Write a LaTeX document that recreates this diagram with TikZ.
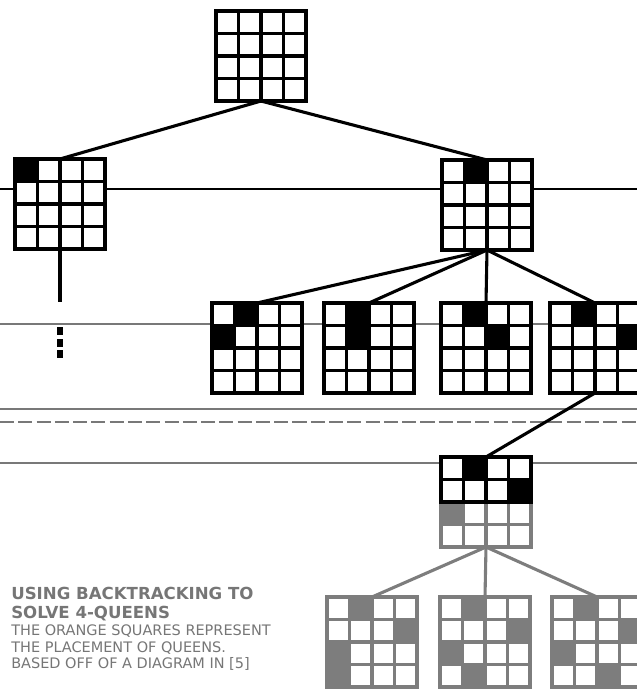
\documentclass[tikz,border=0pt]{standalone}
\usepackage{fontspec}
\setsansfont{DejaVu Sans}
\usetikzlibrary{calc,positioning}
\definecolor{qgray}{RGB}{125,125,125}
\definecolor{rulegray}{RGB}{120,120,120}
\definecolor{textgray}{RGB}{118,118,118}

% grid, queens and frame of a board node
\newcommand{\qcells}[3]{%
  \foreach \r/\c in {#3}
    \fill[#2] ($(#1.north west)+(\c*22.5,\r*22.5)$) rectangle +(22.5,22.5);
  \foreach \k in {1,2,3} {
    \draw[#2,gridline] ($(#1.north west)+(\k*22.5,0)$) -- ($(#1.south west)+(\k*22.5,0)$);
    \draw[#2,gridline] ($(#1.north west)+(0,\k*22.5)$) -- ($(#1.north east)+(0,\k*22.5)$);
  }
  \draw[#2,gridline] (#1.north west) rectangle (#1.south east);
}
\newcommand{\qboard}[4]{%
  \node[board] (#1) at (#2) {};
  \qcells{#1}{#3}{#4}
}

\begin{document}
\begin{tikzpicture}[x=0.025cm,y=-0.025cm,
  board/.style={minimum size=2.25cm,inner sep=0pt,outer sep=0pt,fill=white},
  gridline/.style={line width=2.6pt},
  link/.style={line width=2.2pt},
  rule/.style={line width=1pt,draw=rulegray},
  title/.style={font=\sffamily\bfseries\fontsize{11.8}{14}\selectfont,text=textgray,inner sep=0pt,anchor=base west},
  note/.style={font=\sffamily\fontsize{10.3}{12}\selectfont,text=textgray,inner sep=0pt,anchor=base west}]
  \clip (0,0) rectangle (637,690);

  % ruled lines of the page
  \draw[rule,draw=black,line width=1.2pt] (0,189) -- (637,189);
  \draw[rule] (0,324) -- (637,324);
  \draw[rule] (0,409) -- (637,409);
  \draw[rule,dash pattern=on 10pt off 3pt,line width=0.8pt] (0,422) -- (637,422);
  \draw[rule,line width=1.4pt] (0,463) -- (637,463);

  % root
  \qboard{b0}{261,56}{black}{}
  % first queen
  \qboard{b1}{60,204}{black}{0/0}
  \qboard{b2}{487,205}{black}{0/1}
  % second queen
  \qboard{c1}{257,348}{black}{0/1,1/0}
  \qboard{c2}{369,348}{black}{0/1,1/1}
  \qboard{c3}{486,348}{black}{0/1,1/2}
  \qboard{c4}{595,348}{black}{0/1,1/3}
  % third queen
  \qboard{d1}{486,502}{qgray}{0/1,1/3,2/0}
  \begin{scope}
    \clip ($(d1.north west)+(-5,-5)$) rectangle ($(d1.east)+(5,1)$);
    \qcells{d1}{black}{0/1,1/3}
  \end{scope}
  % fourth queen
  \qboard{e1}{372,642}{qgray}{0/1,1/3,2/0,3/0}
  \qboard{e2}{485,642}{qgray}{0/1,1/3,2/0,3/1}
  \qboard{e3}{597,642}{qgray}{0/1,1/3,2/0,3/2}

  % branches
  \draw[link] (b0.south) -- (b1.north);
  \draw[link] (b0.south) -- (b2.north);
  \foreach \n in {c1,c2,c3,c4}
    \draw[link] (b2.south) -- (\n.north);
  \draw[link] (c4.south) -- (d1.north);
  \foreach \n in {e1,e2,e3}
    \draw[link,draw=qgray] (d1.south) -- (\n.north);

  % pruned branch
  \coordinate (b1end) at (60,302);
  \draw[link] (b1.south) -- (b1end);
  \foreach \y/\m in {331/v1,343/v2,354/v3}
    \node[fill=black,minimum width=4.5,minimum height=6,inner sep=0pt] (\m) at (60,\y) {};

  % caption
  \node[title] (t1) at (11,599) {USING BACKTRACKING TO};
  \node[title] (t2) at (11,618) {SOLVE 4-QUEENS};
  \node[note] (n1) at (11,635) {THE ORANGE SQUARES REPRESENT};
  \node[note] (n2) at (11,652) {THE PLACEMENT OF QUEENS.};
  \node[note] (n3) at (11,668) {BASED OFF OF A DIAGRAM IN [5]};
\end{tikzpicture}
\end{document}
